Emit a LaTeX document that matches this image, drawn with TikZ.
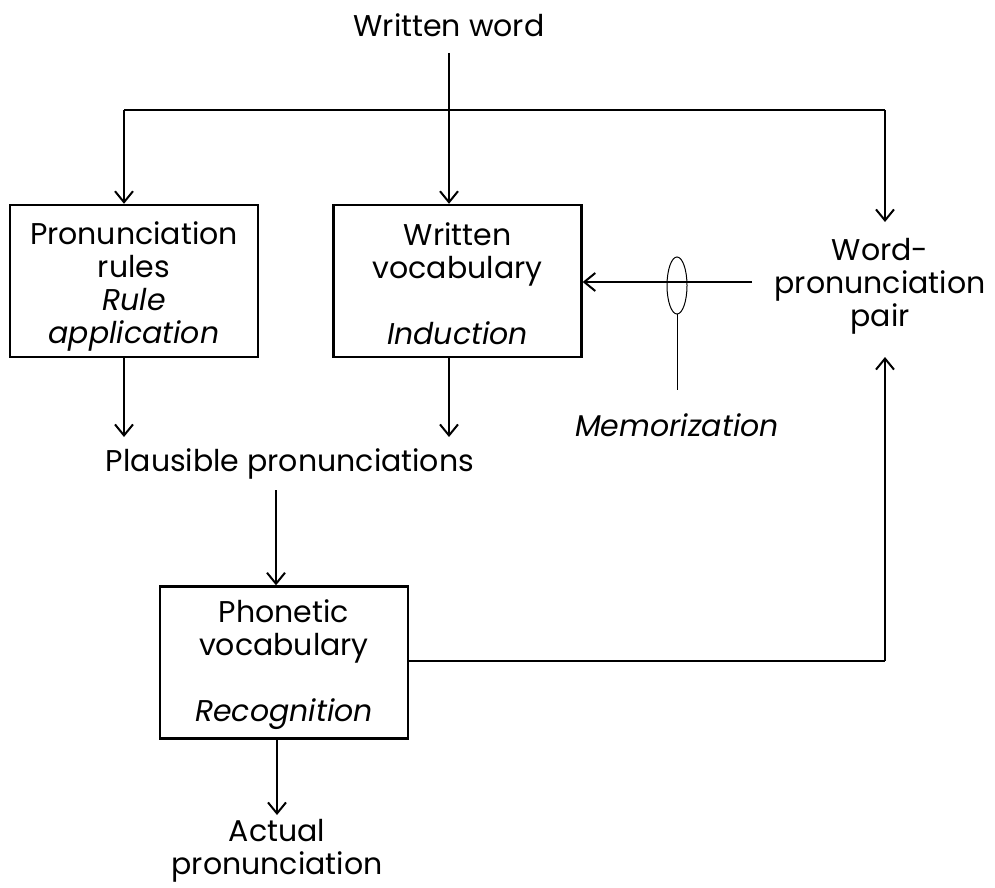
\documentclass[tikz,border=0pt]{standalone}
\usepackage{fontspec}
\setmainfont{Poppins}
\usetikzlibrary{arrows.meta}
\begin{document}
\begin{tikzpicture}[x=0.5pt,y=-0.5pt,
  line width=1.1pt,
  arr/.style={-{Straight Barb[length=5.5pt,width=9pt,line width=1pt]}},
  box/.style={draw,line width=1.2pt,minimum width=124pt,minimum height=76pt,inner sep=0pt},
  txt/.style={font=\fontsize{15}{16.5}\selectfont,align=center,inner sep=0pt},
]
\useasboundingbox (0,0) rectangle (995,888);
% boxes
\node[box] (rules) at (134,281) {};
\node[box] (wvoc) at (457.5,281) {};
\node[box] (pvoc) at (284,662.5) {};
% texts
\node[txt] (ww) at (449,25) {Written word};
\node[txt] at (134,286) {Pronunciation\\rules\\\textit{Rule}\\\textit{application}};
\node[txt] at (457.5,284) {Written\\vocabulary\\[16.5pt]\textit{Induction}};
\node[txt] (pair) at (880,286) {Word-\\pronunciation\\pair};
\node[txt] (plaus) at (290,464) {Plausible pronunciations};
\node[txt] at (284,665) {Phonetic\\vocabulary\\[16.5pt]\textit{Recognition}};
\node[txt] (act) at (277,851) {Actual\\pronunciation};
\node[txt] (memo) at (677,425) {\textit{Memorization}};
% coordinates
\coordinate (wwb) at (449,53);
\coordinate (lt) at (124,110);
\coordinate (rt) at (885,110);
\coordinate (pairtop) at (885,222);
\coordinate (pairbot) at (885,357);
\coordinate (corner) at (885,661);
\coordinate (pairleft) at (752,282);
\coordinate (ell) at (677,285.5);
\coordinate (ellbot) at (677,314);
\coordinate (stick) at (677,390);
% connectors
\draw[arr] (wwb) -- (wwb |- wvoc.north);
\draw (lt) -- (rt);
\draw[arr] (lt) -- (lt |- rules.north);
\draw[arr] (rt) -- (pairtop);
\draw[arr] (pairleft) -- (wvoc.east |- pairleft);
\draw[line width=0.5pt] (ell) ellipse [x radius=10, y radius=28.5];
\draw[line width=0.5pt] (ellbot) -- (stick);
\draw[arr] (124,357) -- (124,437);
\draw[arr] (449,357) -- (449,437);
\draw[arr] (276,490) -- (pvoc.north -| 276,0);
\draw (pvoc.east |- corner) -- (corner);
\draw[arr] (corner) -- (pairbot);
\draw[arr] (pvoc.south -| 277,0) -- (277,815);
\end{tikzpicture}
\end{document}
